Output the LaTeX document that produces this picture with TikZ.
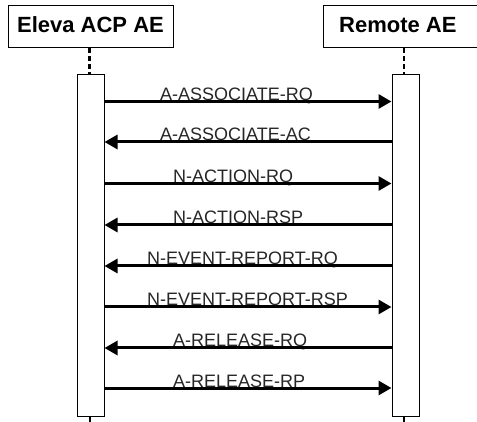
\documentclass[tikz,border=0pt]{standalone}
\usepackage{fontspec}
\setmainfont{Liberation Sans}
\usetikzlibrary{arrows.meta}
\tikzset{
  hdr/.style={font=\fontsize{22}{24}\selectfont\bfseries, inner sep=0pt},
  hdrbox/.style={draw=black, line width=1pt},
  actbox/.style={draw=black, line width=1pt, fill=white, minimum width=27pt, minimum height=341pt, inner sep=0pt},
  life/.style={line width=2.5pt, dash pattern=on 5pt off 3pt},
  stub/.style={line width=2pt},
  msg/.style={line width=3pt, -{Triangle[length=13pt,width=14pt]}},
  lbl/.style={font=\fontsize{18}{20}\selectfont, text=black!85, inner sep=0pt, anchor=base west}
}
\begin{document}
\begin{tikzpicture}[x=1pt,y=-1pt]
\useasboundingbox (0,0) rectangle (477,422);
% headers
\node[hdrbox, minimum width=165pt, minimum height=42pt, inner sep=0pt] (left) at (90.5,27) {};
\node[hdr] (lefttxt) at (90.5,25) {Eleva ACP AE};
\draw[hdrbox] (477,6) -- (323,6) -- (323,48) -- (477,48);
\node[hdr, anchor=base west] (righttxt) at (339,32.5) {Remote AE};
\coordinate (rightbot) at (404,48);
% activation boxes
\node[actbox] (leftact) at (90.5,245.5) {};
\node[actbox] (rightact) at (405.5,245.5) {};
% lifelines
\draw[life] (left.south -| 89.5,0) -- (leftact.north -| 89.5,0);
\draw[life] (rightbot) -- (leftact.north -| 404,0);
\draw[stub] (leftact.south -| 90,0) -- ++(0,8);
\draw[stub] (rightact.south -| 404,0) -- ++(0,8);
% messages
\foreach \y/\dir/\x/\t [count=\i] in {
  101.5/r/160/A-ASSOCIATE-RQ,
  142/l/160/A-ASSOCIATE-AC,
  183.5/r/173/N-ACTION-RQ,
  225/l/173/N-ACTION-RSP,
  266/l/147/N-EVENT-REPORT-RQ,
  307/r/147/N-EVENT-REPORT-RSP,
  348/l/173/A-RELEASE-RQ,
  388/r/173/A-RELEASE-RP} {
  \coordinate (a\i) at (leftact.east |- 0,\y);
  \coordinate (b\i) at (rightact.west |- 0,\y);
  \node[lbl] (t\i) at (\x,\y-1) {\t};
  \if r\dir
    \draw[msg] (a\i) -- (b\i);
  \else
    \draw[msg] (b\i) -- (a\i);
  \fi
}
\end{tikzpicture}
\end{document}
